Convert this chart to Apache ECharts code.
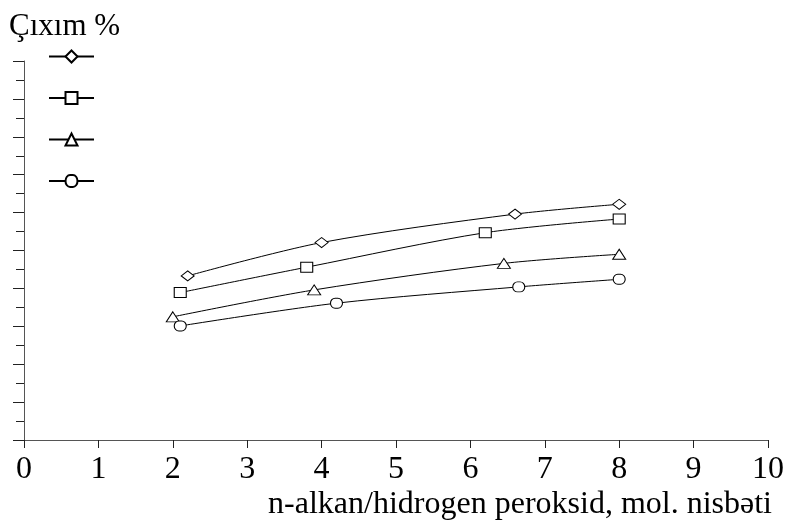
<!DOCTYPE html>
<html>
<head>
<meta charset="utf-8">
<script src="https://cdn.jsdelivr.net/npm/echarts@6/dist/echarts.min.js"></script>
<style>html,body{margin:0;padding:0;background:#fff;}#c{width:787px;height:523px;}</style>
</head>
<body>
<div id="c"></div>
<script>
// Data
const xTicks = [0, 1, 2, 3, 4, 5, 6, 7, 8, 9, 10];
const seriesNames = ['1', '2', '3', '4'];
const diamondX = [2.2, 4.0, 6.6, 8.0];
const diamondY = [43.3, 52.1, 59.6, 62.2];
const squareX = [2.1, 3.8, 6.2, 8.0];
const squareY = [38.9, 45.6, 54.7, 58.3];
const triangleX = [2.0, 3.9, 6.45, 8.0];
const triangleY = [32.5, 39.6, 46.6, 49.0];
const circleX = [2.1, 4.2, 6.65, 8.0];
const circleY = [30.1, 36.1, 40.4, 42.4];
const yTitle = 'Çıxım %';
const xTitle = 'n-alkan/hidrogen peroksid, mol. nisbəti';

const FONT = 'Liberation Serif';
const pair = (xs, ys) => xs.map((x, i) => [x, ys[i]]);
const stadium = 'path://M5,0 L8,0 A5,5 0 0 1 8,10 L5,10 A5,5 0 0 1 5,0 Z';
const symbols = ['diamond', 'rect', 'triangle', stadium];
const sizes = [[13, 10], [12, 10], [13, 10], [12, 10]];
const datasets = [pair(diamondX, diamondY), pair(squareX, squareY), pair(triangleX, triangleY), pair(circleX, circleY)];

const chart = echarts.init(document.getElementById('c'), null, {renderer: 'canvas'});
chart.setOption({
  animation: false,
  backgroundColor: '#fff',
  title: [
    {text: yTitle, left: 9, top: 11, padding: 0,
     textStyle: {fontFamily: FONT, fontSize: 31, fontWeight: 'normal', color: '#000'}},
    {text: xTitle, right: 15, top: 489, padding: 0,
     textStyle: {fontFamily: FONT, fontSize: 32, fontWeight: 'normal', color: '#000'}}
  ],
  legend: {
    orient: 'vertical', left: 48, top: 49, padding: 0,
    itemWidth: 45, itemHeight: 15, itemGap: 27,
    formatter: () => '',
    data: seriesNames
  },
  grid: {left: 24, right: 16, top: 61, bottom: 83, containLabel: false},
  xAxis: {
    type: 'value', min: 0, max: 10, interval: 1,
    axisLine: {lineStyle: {color: '#555', width: 1}},
    axisTick: {show: true, length: 8, lineStyle: {color: '#222'}},
    axisLabel: {margin: 14, fontFamily: FONT, fontSize: 32, color: '#000',
      formatter: v => xTicks.includes(v) ? String(v) : ''},
    splitLine: {show: false}
  },
  yAxis: {
    type: 'value', min: 0, max: 100, interval: 10,
    axisLine: {show: true, lineStyle: {color: '#555', width: 1}},
    axisTick: {show: true, length: 11, lineStyle: {color: '#222'}},
    minorTick: {show: true, splitNumber: 2, length: 8, lineStyle: {color: '#222'}},
    axisLabel: {show: false},
    splitLine: {show: false}
  },
  series: datasets.map((d, i) => ({
    name: seriesNames[i],
    type: 'line',
    data: d,
    smooth: 0.3,
    symbol: symbols[i],
    symbolSize: sizes[i],
    showAllSymbol: true,
    lineStyle: {color: '#000', width: 1},
    itemStyle: {color: '#fff', borderColor: '#000', borderWidth: 1},
    emphasis: {disabled: true}
  }))
});
</script>
</body>
</html>
